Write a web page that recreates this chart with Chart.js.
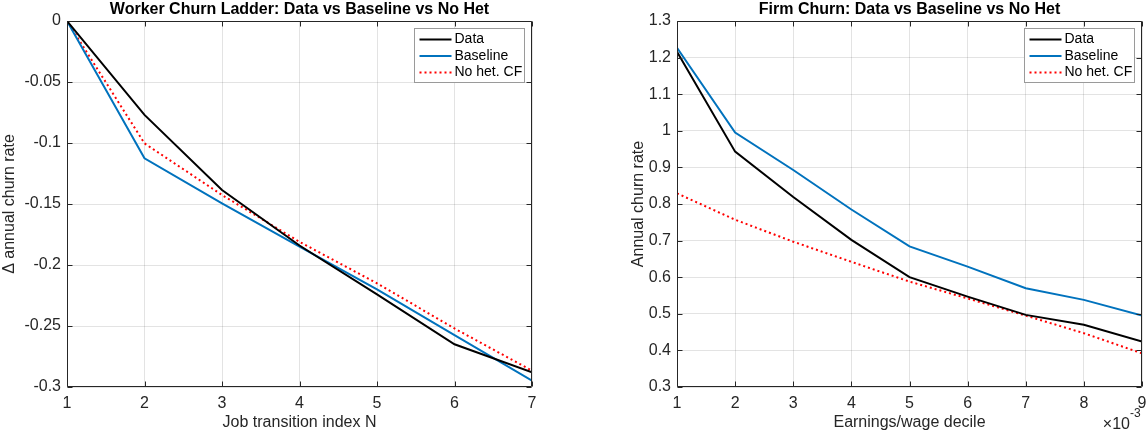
<!DOCTYPE html>
<html>
<head>
<meta charset="utf-8">
<script src="https://cdn.jsdelivr.net/npm/chart.js@4.4.0/dist/chart.umd.min.js"></script>
<style>
  body { margin: 0; background: #fff; }
  #fig { position: relative; width: 1146px; height: 437px; }
  #fig canvas { position: absolute; top: 0; }
</style>
</head>
<body>
<div id="fig">
  <canvas id="workerChart" width="573" height="437" style="left:0"></canvas>
  <canvas id="firmChart" width="573" height="437" style="left:573px"></canvas>
</div>
<script>
// left panel: worker churn ladder
const jobIndex = [1, 2, 3, 4, 5, 6, 7];
const workerData = [0, -0.077, -0.1385, -0.184, -0.224, -0.265, -0.288];
const workerBaseline = [0, -0.1125, -0.1495, -0.185, -0.220, -0.2575, -0.2948];
const workerNoHet = [0, -0.1003, -0.1426, -0.181, -0.215, -0.252, -0.2866];

// right panel: firm churn by decile
const decile = [1, 2, 3, 4, 5, 6, 7, 8, 9];
const firmData = [1.216, 0.943, 0.819, 0.702, 0.600, 0.547, 0.497, 0.470, 0.424];
const firmBaseline = [1.227, 0.995, 0.893, 0.785, 0.684, 0.629, 0.570, 0.538, 0.495];
const firmNoHet = [0.829, 0.757, 0.697, 0.642, 0.588, 0.542, 0.495, 0.447, 0.392];

const seriesNames = ['Data', 'Baseline', 'No het. CF'];

const FONT = "'Liberation Sans', Arial, Helvetica, sans-serif";
const AXIS = '#262626';
const GRID = 'rgba(38,38,38,0.13)';

Chart.defaults.font.family = FONT;
Chart.defaults.color = AXIS;

const pts = (xs, ys) => xs.map((x, i) => ({ x: x, y: ys[i] }));

// MATLAB-ish box, inward ticks, title, legend inside the axes
const matlabFrame = {
  id: 'matlabFrame',
  afterDatasetsDraw(chart, args, opts) {
    const { ctx, chartArea: a, scales: { x, y } } = chart;
    const L = Math.round(a.left) + 0.5, R = Math.round(a.right) - 0.5;
    const T = Math.round(a.top) + 0.5, B = Math.round(a.bottom) - 0.5;
    ctx.save();
    ctx.strokeStyle = AXIS;
    ctx.lineWidth = 1;
    ctx.beginPath();
    ctx.rect(L, T, R - L, B - T);
    x.ticks.forEach(t => {
      const px = Math.round(x.getPixelForValue(t.value)) + 0.5;
      ctx.moveTo(px, B); ctx.lineTo(px, B - 5);
      ctx.moveTo(px, T); ctx.lineTo(px, T + 5);
    });
    y.ticks.forEach(t => {
      const py = Math.round(y.getPixelForValue(t.value)) + 0.5;
      ctx.moveTo(L, py); ctx.lineTo(L + 5, py);
      ctx.moveTo(R, py); ctx.lineTo(R - 5, py);
    });
    ctx.stroke();

    // legend
    const w = 110, h = 54, rowH = 16.5;
    const bx = Math.round(a.right - 8 - w) + 0.5, by = Math.round(a.top + 7) + 0.5;
    ctx.fillStyle = '#fff';
    ctx.fillRect(bx, by, w, h);
    ctx.strokeStyle = '#9a9a9a';
    ctx.strokeRect(bx, by, w, h);
    ctx.font = '14px ' + FONT;
    ctx.textBaseline = 'middle';
    ctx.textAlign = 'left';
    chart.data.datasets.forEach((ds, i) => {
      const ry = by + 11 + i * rowH;
      ctx.beginPath();
      ctx.strokeStyle = ds.borderColor;
      ctx.lineWidth = ds.borderWidth;
      ctx.setLineDash(ds.borderDash || []);
      ctx.moveTo(bx + 5, ry);
      ctx.lineTo(bx + 37, ry);
      ctx.stroke();
      ctx.setLineDash([]);
      ctx.fillStyle = '#000';
      ctx.fillText(ds.label, bx + 40, ry);
    });
    ctx.restore();
  },
  afterDraw(chart, args, opts) {
    const { ctx, chartArea: a } = chart;
    ctx.save();
    ctx.fillStyle = '#000';
    ctx.font = 'bold 16px ' + FONT;
    ctx.textAlign = 'center';
    ctx.textBaseline = 'middle';
    ctx.fillText(opts.title, (a.left + a.right) / 2, 10);
    if (opts.exponent) {
      ctx.fillStyle = AXIS;
      ctx.textAlign = 'right';
      ctx.font = '16px ' + FONT;
      ctx.fillText('\u00d710', a.right - 12, 425);
      ctx.textAlign = 'left';
      ctx.font = '12px ' + FONT;
      ctx.fillText('-3', a.right - 12, 414);
    }
    ctx.restore();
  }
};

function makeDatasets(xs, d, b, n) {
  return [
    { label: seriesNames[0], data: pts(xs, d), borderColor: '#000000', borderWidth: 2 },
    { label: seriesNames[1], data: pts(xs, b), borderColor: '#0072BD', borderWidth: 2 },
    { label: seriesNames[2], data: pts(xs, n), borderColor: '#FF0000', borderWidth: 2, borderDash: [2, 3] }
  ];
}

const fmt = v => String(parseFloat(v.toFixed(2)));

function makeChart(id, cfg) {
  return new Chart(document.getElementById(id), {
    type: 'line',
    data: { datasets: cfg.datasets },
    plugins: [matlabFrame],
    options: {
      responsive: false,
      animation: false,
      layout: { padding: { left: cfg.padLeft, right: cfg.padRight, top: 21, bottom: 5 } },
      elements: { point: { radius: 0 }, line: { tension: 0, fill: false } },
      plugins: {
        legend: { display: false },
        tooltip: { enabled: false },
        matlabFrame: { title: cfg.title, exponent: cfg.exponent }
      },
      scales: {
        x: {
          type: 'linear',
          min: cfg.xMin, max: cfg.xMax,
          afterFit: s => { s.height = 45; s.paddingLeft = 0; s.paddingRight = 0; },
          grid: { color: GRID, drawTicks: false },
          border: { display: false },
          ticks: { stepSize: 1, padding: 7, font: { size: 16 }, color: AXIS, maxRotation: 0 },
          title: { display: true, text: cfg.xTitle, font: { size: 16 }, color: AXIS, padding: 0 }
        },
        y: {
          min: cfg.yMin, max: cfg.yMax,
          afterFit: s => { s.width = cfg.yWidth; s.paddingTop = 0; s.paddingBottom = 0; },
          grid: { color: GRID, drawTicks: false },
          border: { display: false },
          ticks: { stepSize: cfg.yStep, padding: 6, font: { size: 16 }, color: AXIS, callback: fmt },
          title: { display: true, text: cfg.yTitle, font: { size: 16 }, color: AXIS, padding: 0 }
        }
      }
    }
  });
}

makeChart('workerChart', {
  datasets: makeDatasets(jobIndex, workerData, workerBaseline, workerNoHet),
  title: 'Worker Churn Ladder: Data vs Baseline vs No Het',
  xTitle: 'Job transition index N',
  yTitle: '\u0394 annual churn rate',
  xMin: 1, xMax: 7, yMin: -0.3, yMax: 0, yStep: 0.05,
  padLeft: 0, padRight: 41, yWidth: 67, exponent: false
});

makeChart('firmChart', {
  datasets: makeDatasets(decile, firmData, firmBaseline, firmNoHet),
  title: 'Firm Churn: Data vs Baseline vs No Het',
  xTitle: 'Earnings/wage decile',
  yTitle: 'Annual churn rate',
  xMin: 1, xMax: 9, yMin: 0.3, yMax: 1.3, yStep: 0.1,
  padLeft: 56, padRight: 4, yWidth: 48, exponent: true
});
</script>
</body>
</html>
